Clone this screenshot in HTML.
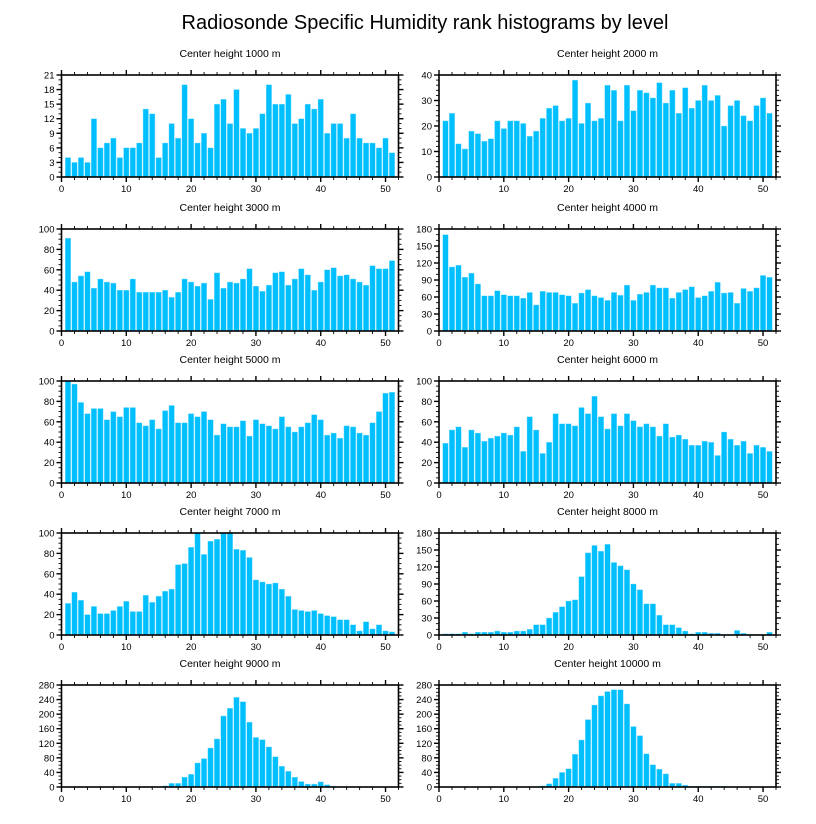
<!DOCTYPE html>
<html><head><meta charset="utf-8"><style>
html,body{margin:0;padding:0;background:#fff;}
svg{display:block;font-family:"Liberation Sans",sans-serif;}
</style></head><body>
<svg id="chart" width="816" height="824" viewBox="0 0 816 824" xmlns="http://www.w3.org/2000/svg">
<rect width="816" height="824" fill="#fff"/>
<text x="425" y="29" font-size="20" text-anchor="middle" fill="#000">Radiosonde Specific Humidity rank histograms by level</text>
</svg>
<script>
const panelTitles = ["Center height 1000 m","Center height 2000 m","Center height 3000 m","Center height 4000 m","Center height 5000 m","Center height 6000 m","Center height 7000 m","Center height 8000 m","Center height 9000 m","Center height 10000 m"];
const yMaxes = [21,40,100,180,100,100,100,180,280,280];
const yMajorSteps = [3,10,20,30,20,20,20,30,40,40];
const yMinorSteps = [1,2,5,10,5,5,5,10,10,10];
const xTicks = [0,10,20,30,40,50];
const h1000 = [4,3,4,3,12,6,7,8,4,6,6,7,14,13,4,7,11,8,19,12,7,9,6,15,16,11,18,10,9,10,13,19,15,15,17,11,12,15,14,16,9,11,11,8,13,8,7,7,6,8,5];
const h2000 = [22,25,13,11,18,17,14,15,22,19,22,22,21,16,18,23,27,28,22,23,38,21,29,22,23,36,34,22,36,26,34,33,31,37,29,34,25,35,27,30,36,30,32,20,28,30,24,22,28,31,25];
const h3000 = [91,48,54,58,42,51,48,47,40,40,51,38,38,38,38,40,33,38,51,48,44,47,31,57,42,48,47,51,61,44,39,45,57,58,45,51,61,55,40,48,60,62,54,55,51,48,45,64,61,61,69];
const h4000 = [170,113,116,95,102,83,62,62,71,64,62,62,58,68,46,70,68,68,64,62,49,67,73,62,59,54,68,63,81,54,65,68,81,76,76,58,68,73,78,59,62,70,86,67,68,49,75,70,76,98,95];
const h5000 = [100,97,79,68,73,73,62,70,65,74,74,59,56,62,53,71,76,59,59,68,65,70,62,47,58,55,55,61,46,62,58,56,53,65,55,50,55,59,67,62,47,49,44,56,55,49,47,59,70,88,89];
const h6000 = [39,52,55,35,52,49,41,44,46,49,47,55,31,65,52,29,40,68,58,58,56,74,68,85,65,53,68,56,68,61,55,58,55,46,58,45,47,43,37,37,41,40,27,50,43,37,41,29,37,35,31];
const h7000 = [31,42,34,20,28,21,21,24,28,33,23,23,39,32,38,43,45,69,70,86,100,79,92,94,100,100,84,83,76,54,52,50,51,45,38,25,24,23,24,21,19,18,15,15,10,4,13,6,10,4,3];
const h8000 = [2,2,2,5,2,5,5,5,7,5,5,7,7,10,18,18,30,40,50,60,62,103,145,158,148,160,128,122,115,90,80,55,55,35,18,18,13,7,2,5,5,3,3,1,1,8,3,1,1,1,5];
const h9000 = [0,0,0,0,0,0,0,0,1,1,0,0,0,1,1,3,10,10,27,35,66,78,107,132,195,216,246,234,178,136,130,110,83,57,43,27,15,8,8,14,6,2,1,1,1,0,0,0,0,0,0];
const h10000 = [0,0,0,0,0,0,0,0,0,0,0,0,0,0,1,3,9,24,40,50,90,129,185,225,250,262,267,267,228,166,141,91,61,49,36,10,10,5,2,2,2,2,2,2,0,0,0,0,0,0,0];
const seriesList = [h1000,h2000,h3000,h4000,h5000,h6000,h7000,h8000,h9000,h10000];

const NS="http://www.w3.org/2000/svg";
const svg=document.getElementById('chart');
function mk(tag,attrs,parent){const e=document.createElementNS(NS,tag);for(const k in attrs)e.setAttribute(k,attrs[k]);(parent||svg).appendChild(e);return e;}
const colX=[61.5,439], rowY=[75,229,381,533,685], PW=337, PH=102, XMAX=52;

for(let p=0;p<10;p++){
  const x0=colX[p%2], y0=rowY[Math.floor(p/2)];
  const g=mk('g',{});
  
  
  const xs=v=>x0+v/XMAX*PW;
  const ys=v=>y0+PH-v/yMaxes[p]*PH;
  const t=mk('text',{x:x0+PW/2,y:y0-18,'font-size':'10.5','text-anchor':'middle',fill:'#000'},g);
  t.textContent=panelTitles[p];
  
  
  const data=seriesList[p];
  data.forEach((v,i)=>{
    const c=i+1, w=0.84;
    const r=mk('rect',{x:xs(c-w/2),y:ys(v),width:xs(w)-x0,height:ys(0)-ys(v),fill:'#00bfff',stroke:'#8fe0ff','stroke-width':'0.4'},g);
    
    
  });
  mk('rect',{x:x0,y:y0,width:PW,height:PH,fill:'none',stroke:'#000','stroke-width':'1.6'},g);
  // x ticks
  for(let v=0;v<=XMAX;v+=2){
    const major=v%10===0, L=major?5:3;
    mk('line',{x1:xs(v),x2:xs(v),y1:y0+PH,y2:y0+PH+L,stroke:'#000','stroke-width':major?1.4:0.9},g);
    mk('line',{x1:xs(v),x2:xs(v),y1:y0,y2:y0-L,stroke:'#000','stroke-width':major?1.4:0.9},g);
  }
  xTicks.forEach(v=>{
    const tl=mk('text',{x:xs(v),y:y0+PH+15,'font-size':'9.5','text-anchor':'middle',fill:'#000'},g);
    tl.textContent=v;
    
    
  });
  // y ticks
  for(let v=0;v<=yMaxes[p]+1e-9;v+=yMinorSteps[p]){
    const major=Math.abs(v%yMajorSteps[p])<1e-9, L=major?5:3;
    mk('line',{x1:x0,x2:x0-L,y1:ys(v),y2:ys(v),stroke:'#000','stroke-width':major?1.4:0.9},g);
    mk('line',{x1:x0+PW,x2:x0+PW+L,y1:ys(v),y2:ys(v),stroke:'#000','stroke-width':major?1.4:0.9},g);
    if(major){
      const yl=mk('text',{x:x0-7,y:ys(v)+3.5,'font-size':'9.5','text-anchor':'end',fill:'#000'},g);
      yl.textContent=v;
      
      
    }
  }
}
</script>
</body></html>
